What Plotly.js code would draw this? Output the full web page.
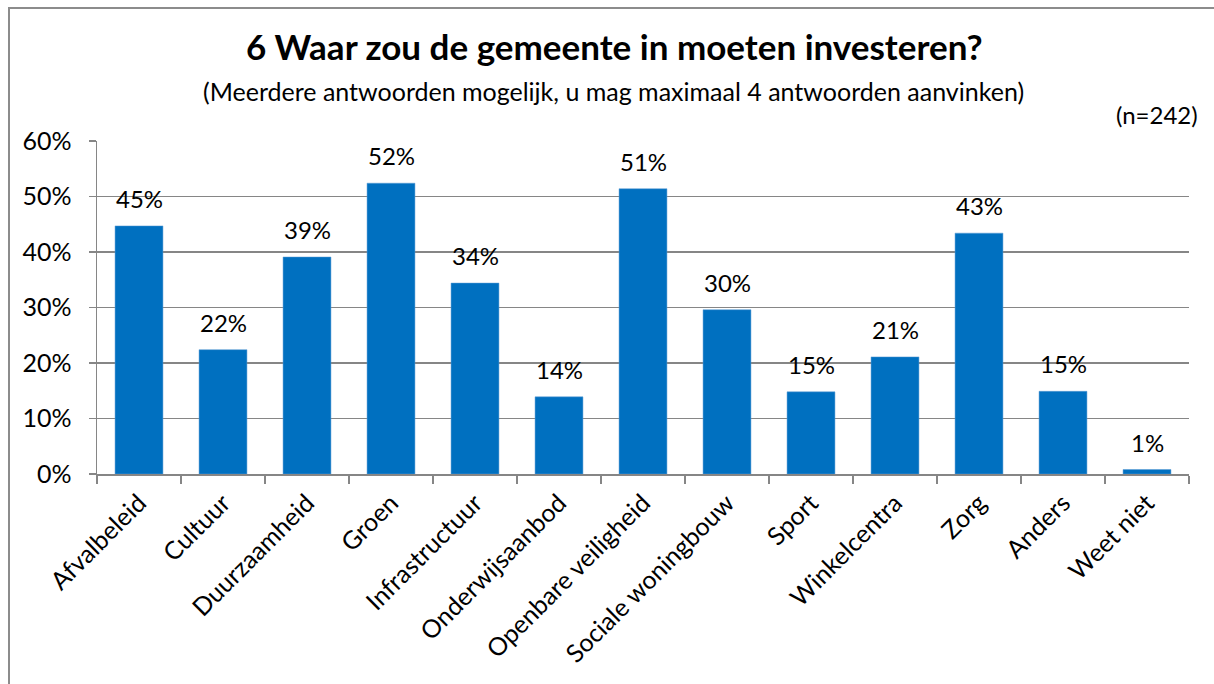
<!DOCTYPE html>
<html><head><meta charset="utf-8">
<script src="https://cdn.plot.ly/plotly-3.0.1.min.js"></script>
<style>
html,body{margin:0;padding:0;background:#fff;overflow:hidden;}
#frame{position:absolute;left:8px;top:7px;width:1220px;height:700px;border:2px solid #8c8c8c;box-sizing:border-box;}
#chart{position:absolute;left:0;top:0;width:1214px;height:684px;}
</style></head>
<body>
<div id="frame"></div>
<div id="chart"></div>
<script>
const categories = ["Afvalbeleid","Cultuur","Duurzaamheid","Groen","Infrastructuur","Onderwijsaanbod","Openbare veiligheid","Sociale woningbouw","Sport","Winkelcentra","Zorg","Anders","Weet niet"];
const values = [0.447,0.224,0.391,0.524,0.344,0.139,0.514,0.296,0.148,0.211,0.434,0.149,0.008];
const valueLabels = ["45%","22%","39%","52%","34%","14%","51%","30%","15%","21%","43%","15%","1%"];
const yTicks = [0,0.1,0.2,0.3,0.4,0.5,0.6];
const yTickLabels = ["0%","10%","20%","30%","40%","50%","60%"];

const FONT = "Lato, 'Open Sans', sans-serif";

const trace = {
  type: "bar",
  x: categories,
  y: values,
  marker: {color: "#0070C0", line: {color: "#5b9bd5", width: 0.5}},
  hoverinfo: "none"
};

const annotations = categories.map((c, i) => ({
  x: c, y: values[i], xref: "x", yref: "y",
  text: valueLabels[i], showarrow: false,
  yanchor: "bottom", yshift: 11,
  font: {family: FONT, size: 24, color: "#000"}
}));
annotations.push({
  xref: "paper", yref: "paper", x: 0.473, y: 1, yanchor: "bottom", yshift: 33,
  text: "(Meerdere antwoorden mogelijk, u mag maximaal 4 antwoorden aanvinken)",
  showarrow: false, font: {family: FONT, size: 25, color: "#000"}
});
annotations.push({
  xref: "paper", yref: "paper", x: 1.01, xanchor: "right", y: 1, yanchor: "bottom", yshift: 10,
  text: "(n=242)", showarrow: false, font: {family: FONT, size: 24, color: "#000"}
});

const layout = {
  width: 1214, height: 684,
  margin: {l: 97, r: 25, t: 141, b: 210},
  paper_bgcolor: "rgba(0,0,0,0)",
  plot_bgcolor: "#fff",
  showlegend: false,
  bargap: 0.43,
  title: {
    text: "<b>6 Waar zou de gemeente in moeten investeren?</b>",
    font: {family: FONT, size: 35, color: "#000"},
    x: 0.506, xanchor: "center", y: 0.93, yanchor: "middle"
  },
  xaxis: {
    type: "category",
    tickangle: -45,
    tickfont: {family: FONT, size: 25, color: "#000"},
    ticklabelstandoff: 3,
    showline: true, linecolor: "#868686", linewidth: 1.5,
    ticks: "outside", tickson: "boundaries", ticklen: 8, tickcolor: "#868686", tickwidth: 1.5,
    showgrid: false, fixedrange: true
  },
  yaxis: {
    range: [0, 0.6],
    tickvals: yTicks, ticktext: yTickLabels,
    tickfont: {family: FONT, size: 25, color: "#000"},
    ticklabelstandoff: 12,
    showline: true, linecolor: "#868686", linewidth: 1.5,
    ticks: "outside", ticklen: 7, tickcolor: "#868686", tickwidth: 1.5,
    showgrid: true, gridcolor: "#868686", gridwidth: 1.2,
    zeroline: false, fixedrange: true
  },
  annotations: annotations
};

Plotly.newPlot("chart", [trace], layout, {staticPlot: true, displayModeBar: false});
</script>
</body></html>
